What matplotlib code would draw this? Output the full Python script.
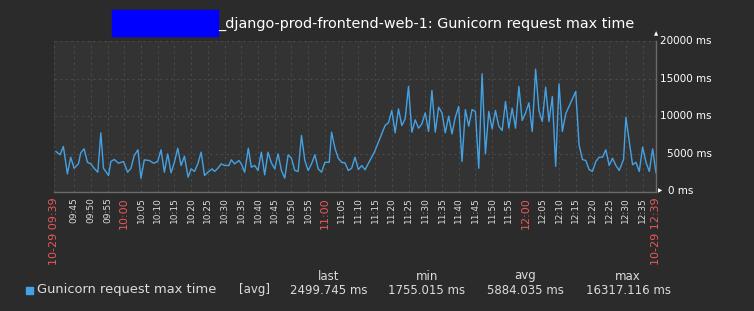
import matplotlib
matplotlib.use("Agg")
import matplotlib.pyplot as plt
from matplotlib.patches import Rectangle
import datetime as dt

# minutes after 10-29 09:39 and the max request time (ms)
minutes = [0.6, 1.8, 2.8, 4, 5, 6, 7.3, 8, 9, 10, 11, 12, 13.1, 14, 14.8, 16.3, 17, 18, 19.3, 20.8,
           22, 23, 24, 25.1, 26, 27, 28.5, 29.8, 31, 32, 33, 34, 35, 36, 37, 38, 39, 40.1, 41, 42,
           43, 44, 45, 46, 47.3, 48, 49, 50, 51, 52.3, 53, 54, 55.3, 56, 57, 58.1, 59, 60, 61, 62,
           63, 64, 65, 66, 67, 68, 69, 70, 71, 72, 73, 74, 75, 76, 77, 78, 79, 80, 81, 82.3,
           83, 84, 85, 86, 87, 88, 89, 90, 91, 92, 93, 94.3, 95.8, 97, 98, 99, 100, 101, 102, 103,
           104, 105, 106, 107, 108, 109, 110, 111, 112, 113, 114, 115, 116, 117, 118, 119, 120, 121, 122, 123,
           124, 125, 126, 127, 128, 129, 130, 131, 132, 133, 134, 135, 136, 137, 138, 139, 140, 141, 142, 143,
           144, 145, 146, 147, 148, 149, 150, 151, 152, 153, 156, 157, 158, 159, 160, 161, 162, 163, 164, 165,
           166, 167, 168, 169, 170.3, 171, 172, 173, 174, 175, 176, 177, 178, 179, 180]
max_time = [5330, 4900, 6000, 2350, 4570, 3100, 3690, 5150, 5690, 3900, 3690, 3100, 2570, 7820, 3100, 2130, 4000, 4270, 3770, 4000,
            2570, 3100, 4800, 5560, 1760, 4220, 4130, 3770, 4000, 5560, 2570, 5020, 2490, 3900, 5770, 3470, 4700, 1910, 3020, 2670,
            3690, 5240, 2130, 2570, 3020, 2670, 3100, 3690, 3470, 3470, 4220, 3690, 4130, 3690, 2570, 5770, 3240, 3470, 2800, 5240,
            2220, 5240, 3820, 3020, 5020, 2800, 1780, 4890, 4440, 2800, 2670, 7470, 4130, 2800, 3690, 4890, 3020, 2570, 3900, 3900,
            7910, 5770, 4440, 3900, 3820, 2800, 3100, 4570, 2930, 3470, 2890, 4000, 5240, 6570, 7690, 8800, 9160, 10800, 7820, 11020,
            8800, 9690, 14000, 7910, 9560, 8440, 9020, 10490, 8000, 13470, 7910, 11240, 10490, 7820, 10040, 7690, 9910, 11330, 4000, 10930,
            8710, 10930, 10670, 3100, 15690, 5020, 10670, 8360, 10800, 8710, 8130, 12000, 8440, 11110, 8440, 14000, 9470, 10490, 11820, 8000,
            16317, 10800, 9330, 13910, 9330, 12670, 3370, 14360, 8000, 10360, 13330, 6220, 4270, 4130, 2930, 2670, 4000, 4570, 4570, 5560,
            3470, 4440, 3470, 2800, 4270, 9910, 6670, 3560, 3900, 2670, 5910, 3900, 2670, 5690, 2500]

start = dt.datetime(2000, 10, 29, 9, 39)
tick_minutes = [0] + list(range(6, 180, 5)) + [180]
y_ticks = [0, 5000, 10000, 15000, 20000]
legend_cols = ["last", "min", "avg", "max"]
legend_vals = ["2499.745 ms", "1755.015 ms", "5884.035 ms", "16317.116 ms"]

W, H = 754, 311
BG = "#2b2b2b"
PLOT_BG = "#333333"
GRID = "#4a4a4a"
LINE = "#44a2e4"
TXT = "#dcdcdc"
RED = "#e85a5a"

fig = plt.figure(figsize=(W / 100, H / 100), dpi=100, facecolor=BG)
x0, x1, y0, y1 = 54, 656, 41.5, 191.5
ax = fig.add_axes([x0 / W, 1 - y1 / H, (x1 - x0) / W, (y1 - y0) / H], facecolor=PLOT_BG)

ax.plot(minutes, max_time, color=LINE, lw=1.0)
ax.set_xlim(0, 180)
ax.set_ylim(0, 20000)

ax.set_yticks(y_ticks)
ax.set_yticklabels([])
ax.set_xticks(tick_minutes)
labels = []
for m in tick_minutes:
    t = start + dt.timedelta(minutes=m)
    if m in (0, 180):
        labels.append(t.strftime("%m-%d %H:%M"))
    else:
        labels.append(t.strftime("%H:%M"))
ax.set_xticklabels(labels, rotation=90, va="top", ha="center")
ax.tick_params(length=0, pad=4)
for m, lab in zip(tick_minutes, ax.get_xticklabels()):
    t = start + dt.timedelta(minutes=m)
    if m in (0, 180) or t.minute == 0:
        lab.set_color(RED)
        lab.set_fontsize(8)
    else:
        lab.set_color(TXT)
        lab.set_fontsize(6.5)

ax.grid(True, color=GRID, ls=(0, (2, 3)), lw=0.8)
for s in ["top", "left"]:
    ax.spines[s].set_visible(False)
for s in ["bottom", "right"]:
    ax.spines[s].set_color("#6a6a6a")
    ax.spines[s].set_linewidth(1)

ytr = ax.get_yaxis_transform()
for v in y_ticks:
    if v == 0:
        ax.text((668 - x0) / (x1 - x0), v, "0 ms", transform=ytr, ha="left", va="center",
                color="#ffffff", fontsize=7.5)
    else:
        ax.text((712 - x0) / (x1 - x0), v, f"{v} ms", transform=ytr, ha="right", va="center",
                color="#ffffff", fontsize=7.5)

def fx(x):
    return x / W

def fy(y):
    return 1 - y / H

fig.text(fx(656), fy(34), "▲", color="#ffffff", fontsize=4, ha="center", va="center")
fig.text(fx(660), fy(191), "▶", color="#ffffff", fontsize=4, ha="center", va="center")

# title (host name hidden behind a blue box)
fig.patches.append(Rectangle((fx(112), fy(36)), fx(218) - fx(112), fy(10) - fy(36),
                             transform=fig.transFigure, color="#0000ff"))
fig.text(fx(218), fy(24), "_django-prod-frontend-web-1: Gunicorn request max time",
         color="#ffffff", fontsize=10.4, ha="left", va="center")

# legend
fig.patches.append(Rectangle((fx(26), fy(294)), fx(33) - fx(26), fy(287) - fy(294),
                             transform=fig.transFigure, color=LINE))
fig.text(fx(37), fy(290), "Gunicorn request max time", color=TXT, fontsize=9.4, ha="left", va="center")
fig.text(fx(239), fy(290), "[avg]", color=TXT, fontsize=8.5, ha="left", va="center")
col_x = [329, 427, 525, 628]
for cx, name, val in zip(col_x, legend_cols, legend_vals):
    fig.text(fx(cx), fy(276), name, color=TXT, fontsize=8.5, ha="center", va="center")
    fig.text(fx(cx), fy(290), val, color=TXT, fontsize=8.5, ha="center", va="center")

fig.savefig("out.png", dpi=100, facecolor=BG)
